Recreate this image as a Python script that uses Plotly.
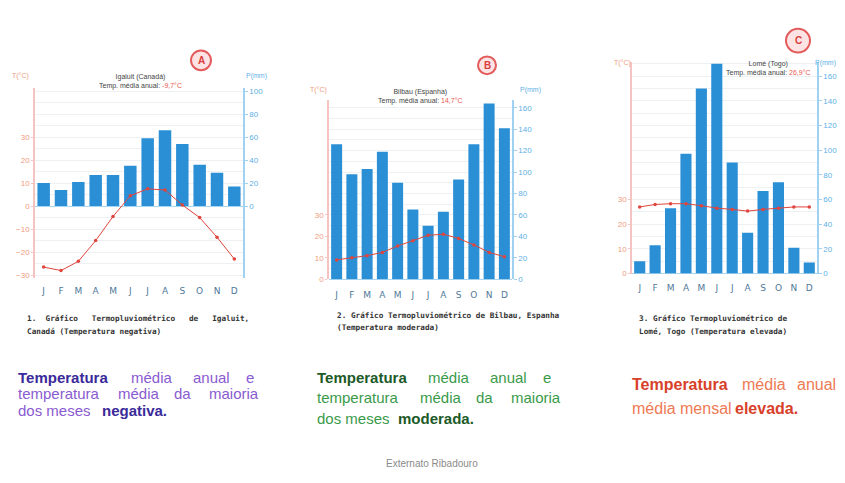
import plotly.graph_objects as go

# page body has an 8px margin; the figure is sized so it fits the window
OFF = 8
W, H = 845 - OFF, 483 - 2 * OFF

months = ['J', 'F', 'M', 'A', 'M', 'J', 'J', 'A', 'S', 'O', 'N', 'D']
month_idx = list(range(12))

precip_A = [20, 14, 21, 27, 27, 35, 59, 66, 54, 36, 29, 17]
temp_A = [-26.5, -28, -24, -15, -4.5, 4.5, 7.5, 7, 0.5, -5, -13.5, -23]

precip_B = [126, 98, 103, 119, 90, 65, 50, 63, 93, 126, 164, 141]
temp_B = [9, 10, 11, 12.5, 15.5, 18, 20.5, 21, 19, 16, 12.5, 10.5]

precip_C = [10, 23, 53, 97, 150, 170, 90, 33, 67, 74, 21, 9]
temp_C = [27, 28, 28.3, 28.3, 27.5, 26.5, 26, 25.3, 26, 26.5, 27, 27]

p_ticks_A = [0, 20, 40, 60, 80, 100]
t_ticks_A = [-30, -20, -10, 0, 10, 20, 30]
p_ticks_B = [0, 20, 40, 60, 80, 100, 120, 140, 160]
t_ticks_B = [0, 10, 20, 30]
p_ticks_C = [0, 20, 40, 60, 80, 100, 120, 140, 160]
t_ticks_C = [0, 10, 20, 30]

titles = ['Igaluit (Canadá)', 'Bilbau (Espanha)', 'Lomé (Togo)']
annual = ['-9,7°C', '14,7°C', '26,9°C']
letters = ['A', 'B', 'C']

BAR = '#2b8fd6'
LINE = '#e0443c'
TLAB = '#f09a80'
PLAB = '#5db0e6'
TAX = '#f6c3c3'
PAX = '#9fd2f2'
GRID = '#eef1f4'


def fx(p):
    return (p - OFF) / W


def fy(p):
    return 1 - (p - OFF) / H


charts = [
    dict(x0=35, x1=243, top=88, bot=280, prange=[-62.06, 102.7], standoff=6,
         precip=precip_A, temp=temp_A, pt=p_ticks_A, tt=t_ticks_A,
         title=(140, 71), tlabel=(20, 76), plabel=(256, 76), circ=(201, 60, 10)),
    dict(x0=329, x1=512, top=100, bot=281.7, prange=[0, 167.5], standoff=9,
         precip=precip_B, temp=temp_B, pt=p_ticks_B, tt=t_ticks_B,
         title=(420, 86), tlabel=(318, 90), plabel=(530, 90), circ=(487, 65, 9)),
    dict(x0=632, x1=817, top=62, bot=276, prange=[0, 171.2], standoff=7,
         precip=precip_C, temp=temp_C, pt=p_ticks_C, tt=t_ticks_C,
         title=(768, 58), tlabel=(622, 63), plabel=(825, 63), circ=(798, 40, 12)),
]

fig = go.Figure()
layout = dict(width=W, height=H, margin=dict(l=0, r=0, t=0, b=0),
              paper_bgcolor='white', plot_bgcolor='white', showlegend=False,
              font=dict(family='Liberation Sans, Arial, sans-serif'))
annotations = []
shapes = []


def note(x, y, text, size, color, xanchor='center', yanchor='middle', family=None, align='center'):
    f = dict(size=size, color=color)
    if family:
        f['family'] = family
    annotations.append(dict(x=fx(x), y=fy(y), xref='paper', yref='paper', text=text,
                            showarrow=False, xanchor=xanchor, yanchor=yanchor,
                            font=f, align=align))


for i, c in enumerate(charts):
    n = i + 1
    xa = 'x' if n == 1 else f'x{n}'
    ya_p = f'y{2 * n - 1}' if n > 1 else 'y'
    ya_t = f'y{2 * n}'
    xk = 'xaxis' if n == 1 else f'xaxis{n}'
    ypk = 'yaxis' if n == 1 else f'yaxis{2 * n - 1}'
    ytk = f'yaxis{2 * n}'
    pr = c['prange']
    tr = [pr[0] / 2, pr[1] / 2]
    dom_y = [fy(c['bot']), fy(c['top'])]

    fig.add_trace(go.Bar(x=month_idx, y=c['precip'], xaxis=xa, yaxis=ya_p,
                         marker=dict(color=BAR, line=dict(width=0)), width=0.72))
    fig.add_trace(go.Scatter(x=month_idx, y=c['temp'], xaxis=xa, yaxis=ya_t,
                             mode='lines+markers',
                             line=dict(color=LINE, width=1),
                             marker=dict(color=LINE, size=3.5)))

    layout[xk] = dict(domain=[fx(c['x0']), fx(c['x1'])], anchor=ya_p,
                      range=[-0.5, 11.5], tickvals=month_idx, ticktext=months,
                      showgrid=False, zeroline=False, showline=False, ticks='',
                      tickfont=dict(size=9, color='#4f7899', family='DejaVu Sans'),
                      ticklabelstandoff=c['standoff'])
    minor_vals = list(range(int(pr[0] // 10) * 10 + 10, int(pr[1]) + 1, 10))
    layout[ypk] = dict(domain=dom_y, anchor=xa, side='right', range=pr,
                       tickvals=c['pt'], showgrid=True, gridcolor=GRID,
                       minor=dict(tickvals=minor_vals, showgrid=True, gridcolor=GRID, ticks=''),
                       zeroline=True, zerolinecolor='#a9d5f0', zerolinewidth=1,
                       showline=True, linecolor=PAX, linewidth=1.5,
                       ticks='outside', ticklen=3, tickcolor=PAX,
                       tickfont=dict(size=8, color=PLAB))
    layout[ytk] = dict(domain=dom_y, anchor=xa, overlaying=ya_p, side='left',
                       range=tr, tickvals=c['tt'], showgrid=False, zeroline=False,
                       showline=True, linecolor=TAX, linewidth=1.5,
                       ticks='outside', ticklen=2, tickcolor=TAX,
                       tickfont=dict(size=8, color=TLAB))

    tx, ty = c['title']
    note(tx, ty, f'{titles[i]}<br>Temp. média anual: <span style="color:#e8584c">{annual[i]}</span>',
         7, '#444', yanchor='top')
    note(*c['tlabel'], 'T(°C)', 7, TLAB)
    note(*c['plabel'], 'P(mm)', 7, PLAB)
    cx, cy, r = c['circ']
    shapes.append(dict(type='circle', xref='paper', yref='paper',
                       x0=fx(cx - r), x1=fx(cx + r), y0=fy(cy + r), y1=fy(cy - r),
                       line=dict(color='#e35a5a', width=2), fillcolor='#fde3e3'))
    note(cx, cy, f'<b>{letters[i]}</b>', 10, '#d9403c')

# captions
NB = '\u00a0'
captions = [
    (25, 322, ['1.' + NB * 2 + 'Gráfico' + NB * 3 + 'Termopluviométrico' + NB * 3 + 'de' + NB * 3 + 'Igaluit,',
               'Canadá (Temperatura negativa)']),
    (335, 318, ['2. Gráfico Termopluviométrico de Bilbau,' + NB + 'Espanha',
                '(Temperatura moderada)']),
    (637, 322, ['3.' + NB + 'Gráfico' + NB + 'Termopluviométrico' + NB + 'de',
                'Lomé, Togo (Temperatura elevada)']),
]
for x, y, lines in captions:
    for k, ln in enumerate(lines):
        note(x, y + k * 13, f'<b>{ln}</b>', 7.7, '#333', xanchor='left', family='DejaVu Sans Mono')


def words(items, color, bcolor, size, family):
    for w, x, y, b in items:
        note(x, y, f'<b>{w}</b>' if b else w, size, bcolor if b else color,
             xanchor='left', family=family)


words([('Temperatura', 16, 381, True), ('média', 129, 381, False), ('anual', 191, 381, False), ('e', 244, 381, False),
       ('temperatura', 16, 398, False), ('média', 116, 398, False), ('da', 172, 398, False), ('maioria', 207, 398, False),
       ('dos meses', 16, 415, False), ('negativa.', 100, 415, True)],
      '#8a5ad0', '#3a2a9a', 15, 'Liberation Sans')
words([('Temperatura', 315, 381, True), ('média', 426, 381, False), ('anual', 488, 381, False), ('e', 541, 381, False),
       ('temperatura', 315, 402, False), ('média', 418, 402, False), ('da', 474, 402, False), ('maioria', 509, 402, False),
       ('dos meses', 315, 423, False), ('moderada.', 396, 423, True)],
      '#3a9a4a', '#1c5a28', 15, 'Liberation Sans')
words([('Temperatura', 630, 388, True), ('média', 740, 388, False), ('anual', 795, 388, False),
       ('média mensal', 630, 413, False), ('elevada.', 733, 413, True)],
      '#ee7a55', '#d8402a', 16, 'Liberation Sans')

note(432, 468, 'Externato Ribadouro', 10, '#8a8a8a')

layout['annotations'] = annotations
layout['shapes'] = shapes
fig.update_layout(**layout)
fig.write_html('out.html')
